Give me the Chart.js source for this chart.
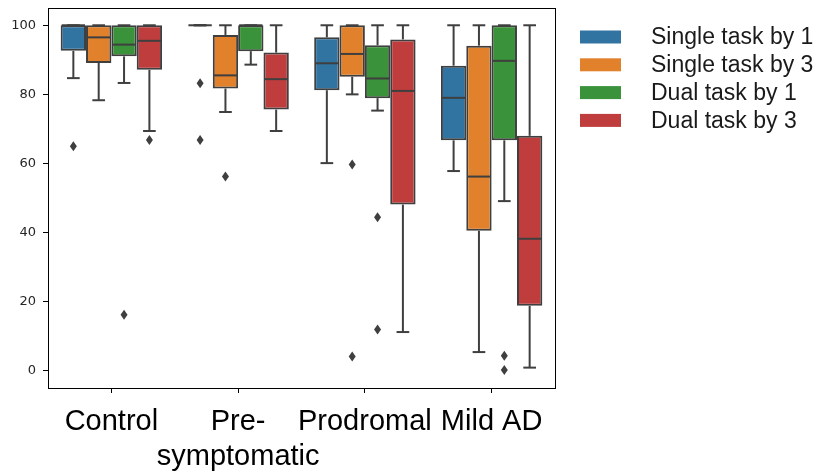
<!DOCTYPE html>
<html>
<head>
<meta charset="utf-8">
<script src="https://cdn.jsdelivr.net/npm/chart.js@4.4.1/dist/chart.umd.min.js"></script>
<style>
  html, body { margin: 0; padding: 0; background: #fff; }
  #wrap { width: 823px; height: 471px; }
</style>
</head>
<body>
<div id="wrap"><canvas id="boxChart"></canvas></div>
<script>
const categories = [['Control'], ['Pre-', 'symptomatic'], ['Prodromal'], ['Mild AD']];
const seriesNames = ['Single task by 1', 'Single task by 3', 'Dual task by 1', 'Dual task by 3'];
const seriesColors = ['#3274a1', '#e1812c', '#3a923a', '#c03d3e'];
const yTicks = [0, 20, 40, 60, 80, 100];

// per category: [lower whisker, Q1, median, Q3, upper whisker]
const singleBy1 = [[84.7, 92.6, 100, 100, 100], [100, 100, 100, 100, 100], [60.1, 81.2, 89.0, 96.5, 100], [57.8, 66.7, 79.0, 88.3, 100]];
const singleBy3 = [[78.3, 89.1, 96.5, 100, 100], [74.9, 81.7, 85.5, 97.2, 100], [80.0, 85.1, 91.7, 100, 100], [5.4, 40.5, 56.2, 94.1, 100]];
const dualBy1 = [[83.3, 91.0, 94.4, 100, 100], [88.6, 92.5, 100, 100, 100], [75.3, 78.9, 84.6, 94.2, 100], [49.1, 66.7, 89.7, 100, 100]];
const dualBy3 = [[69.4, 87.1, 95.5, 100, 100], [69.4, 75.6, 84.4, 92.1, 100], [11.2, 48.1, 81.0, 95.9, 100], [0.9, 18.8, 38.2, 68.0, 100]];

// outliers per category
const singleBy1Out = [[65.0], [83.2, 66.8], [], []];
const singleBy3Out = [[], [56.2], [59.7, 4.1], []];
const dualBy1Out = [[16.2], [], [44.4, 11.9], [4.3, 0.2]];
const dualBy3Out = [[66.8], [], [], []];

const stats = [singleBy1, singleBy3, dualBy1, dualBy3];
const outliers = [singleBy1Out, singleBy3Out, dualBy1Out, dualBy3Out];
const EDGE = '#3f3f3f';

const boxExtras = {
    id: 'boxExtras',
    afterDatasetsDraw(chart) {
        const ctx = chart.ctx;
        const y = chart.scales.y;
        const line = (x1, y1, x2, y2) => {
            ctx.beginPath();
            ctx.moveTo(x1, y1);
            ctx.lineTo(x2, y2);
            ctx.stroke();
        };
        ctx.save();
        ctx.strokeStyle = EDGE;
        ctx.fillStyle = EDGE;
        ctx.lineWidth = 2;
        ctx.lineCap = 'butt';
        chart.data.datasets.forEach((ds, i) => {
            const meta = chart.getDatasetMeta(i);
            meta.data.forEach((bar, j) => {
                const s = stats[i][j];
                const { x, width } = bar.getProps(['x', 'width'], true);
                const half = width / 2 - 1;
                const lo = y.getPixelForValue(s[0]);
                const q1 = y.getPixelForValue(s[1]);
                const med = y.getPixelForValue(s[2]);
                const q3 = y.getPixelForValue(s[3]);
                const hi = y.getPixelForValue(s[4]);
                // whiskers + caps
                line(x, q1, x, lo);
                line(x, q3, x, hi);
                line(x - width / 4, lo, x + width / 4, lo);
                line(x - width / 4, hi, x + width / 4, hi);
                // median
                line(x - half, med, x + half, med);
                // outliers (thin diamonds)
                outliers[i][j].forEach(v => {
                    const py = y.getPixelForValue(v);
                    ctx.beginPath();
                    ctx.moveTo(x, py - 5);
                    ctx.lineTo(x + 3.5, py);
                    ctx.lineTo(x, py + 5);
                    ctx.lineTo(x - 3.5, py);
                    ctx.closePath();
                    ctx.fill();
                });
            });
        });
        ctx.restore();
    },
    afterDraw(chart) {
        const ctx = chart.ctx;
        const a = chart.chartArea;
        ctx.save();
        // frame
        ctx.strokeStyle = '#000';
        ctx.lineWidth = 1;
        ctx.strokeRect(Math.round(a.left) + 0.5, Math.round(a.top) + 0.5,
            Math.round(a.right - a.left), Math.round(a.bottom - a.top));
        // legend
        ctx.font = '23px "Liberation Sans", Arial, sans-serif';
        ctx.textBaseline = 'middle';
        ctx.textAlign = 'left';
        chart.data.datasets.forEach((ds, i) => {
            const cy = a.top + 29 + i * 27.8;
            ctx.fillStyle = ds.backgroundColor;
            ctx.fillRect(a.right + 25, cy - 6.5, 41, 13);
            ctx.fillStyle = '#1a1a1a';
            ctx.fillText(ds.label, a.right + 96, cy + 1);
        });
        ctx.restore();
    }
};

new Chart(document.getElementById('boxChart'), {
    type: 'bar',
    data: {
        labels: categories,
        datasets: seriesNames.map((name, i) => ({
            label: name,
            data: stats[i].map(s => [s[1], s[3]]),
            backgroundColor: seriesColors[i],
            borderColor: EDGE,
            borderWidth: 2,
            borderSkipped: false,
            categoryPercentage: 0.8,
            barPercentage: 1.0
        }))
    },
    options: {
        responsive: true,
        maintainAspectRatio: false,
        animation: false,
        layout: { padding: { left: 0, right: 268, top: 8, bottom: 0 } },
        plugins: {
            legend: { display: false },
            tooltip: { enabled: false }
        },
        scales: {
            x: {
                grid: { offset: false, drawOnChartArea: false, drawTicks: true, tickLength: 5, color: '#000' },
                border: { display: true, color: '#000', width: 1 },
                ticks: {
                    color: '#000',
                    padding: 12,
                    maxRotation: 0,
                    autoSkip: false,
                    font: { family: '"Liberation Sans", Arial, sans-serif', size: 29, lineHeight: 1.2 }
                },
                afterFit(scale) {
                    scale.height = 83;
                    scale.paddingLeft = 0;
                    scale.paddingRight = 0;
                }
            },
            y: {
                min: -5,
                max: 105,
                afterBuildTicks(scale) {
                    scale.ticks = yTicks.map(v => ({ value: v }));
                },
                grid: { drawOnChartArea: false, drawTicks: true, tickLength: 5, color: '#000' },
                border: { display: true, color: '#000', width: 1 },
                ticks: {
                    color: '#262626',
                    padding: 7,
                    font: { family: '"DejaVu Sans", sans-serif', size: 13 }
                },
                afterFit(scale) {
                    scale.width = 48;
                    scale.paddingTop = 0;
                    scale.paddingBottom = 0;
                }
            }
        }
    },
    plugins: [boxExtras]
});
</script>
</body>
</html>
